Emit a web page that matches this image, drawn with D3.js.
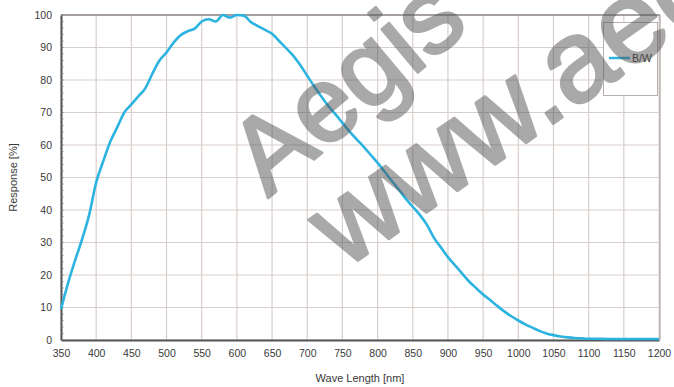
<!DOCTYPE html>
<html><head><meta charset="utf-8">
<script src="https://cdn.jsdelivr.net/npm/d3@7"></script>
<style>html,body{margin:0;padding:0;background:#fff;}svg{display:block;}</style>
</head><body><div id="chart"></div>
<script>
const wavelengths = [350,360,370,380,390,400,410,420,430,440,450,460,470,480,490,500,510,520,530,540,550,560,570,580,590,600,610,620,630,640,650,660,670,680,690,700,710,720,730,740,750,760,770,780,790,800,810,820,830,840,850,860,870,880,890,900,910,920,930,940,950,960,970,980,990,1000,1010,1020,1030,1040,1050,1060,1070,1080,1090,1100,1120,1140,1160,1180,1200];
const responseBW = [9.5,17.5,24.5,31,38.5,48.5,55,61,65.5,70,72.5,75,77.5,82,86,88.5,91.5,93.8,95,95.8,98,98.7,98,100,99.2,100,99.8,97.8,96.6,95.4,94.2,92,89.8,87.5,84.6,81.3,78,74.9,72,69.5,66.8,64.2,61.8,59.5,57,54.5,51.8,49,46.3,43.5,41,38.5,35.5,31.5,28.5,25.5,23,20.5,18,16,14,12.3,10.5,8.8,7.3,6,4.8,3.8,2.8,2,1.5,1.1,0.8,0.6,0.5,0.4,0.35,0.3,0.3,0.3,0.3];
const xTicks = [350,400,450,500,550,600,650,700,750,800,850,900,950,1000,1050,1100,1150,1200];
const yTicks = [0,10,20,30,40,50,60,70,80,90,100];
const seriesName = "B/W";
const xTitle = "Wave Length [nm]";
const yTitle = "Response [%]";
const watermark1 = "Aegis";
const watermark2 = "www.aegis-elec.com";

const W = 674, H = 387;
const m = {left:61, right:15, top:15, bottom:47};
const svg = d3.select("#chart").append("svg").attr("width", W).attr("height", H);
const x = d3.scaleLinear().domain([350,1200]).range([m.left, W - m.right]);
const y = d3.scaleLinear().domain([0,100]).range([H - m.bottom, m.top]);
const font = "'Liberation Sans', Arial, sans-serif";

// grid
const grid = svg.append("g");
grid.selectAll(".vg").data(xTicks).join("line")
  .attr("x1", d => x(d)).attr("x2", d => x(d)).attr("y1", y(0)).attr("y2", y(100))
  .attr("stroke", "#d9cfcc").attr("stroke-width", 1.2);
grid.selectAll(".hg").data(yTicks).join("line")
  .attr("x1", x(350)).attr("x2", x(1200)).attr("y1", d => y(d)).attr("y2", d => y(d))
  .attr("stroke", "#d9cfcc").attr("stroke-width", 1.2);

// frame top/right
svg.append("line").attr("x1", x(350)).attr("x2", x(1200)+1).attr("y1", y(100)).attr("y2", y(100)).attr("stroke", "#8f8a88").attr("stroke-width", 1.5);
svg.append("line").attr("x1", x(1200)+1).attr("x2", x(1200)+1).attr("y1", y(100)).attr("y2", y(0)).attr("stroke", "#a8a2a0").attr("stroke-width", 1.2);

// axes
const xAxis = svg.append("g").attr("transform", `translate(0,${y(0)})`)
  .call(d3.axisBottom(x).tickValues(xTicks).tickSize(0).tickPadding(10).tickFormat(d3.format("d")));
const yAxis = svg.append("g").attr("transform", `translate(${x(350)},0)`)
  .call(d3.axisLeft(y).tickValues(yTicks).tickSize(0).tickPadding(9).tickFormat(d3.format("d")));
[xAxis, yAxis].forEach(a => {
  a.select(".domain").attr("stroke", "#555").attr("stroke-width", 2);
  a.selectAll("text").attr("font-family", font).attr("font-size", 10.5).attr("fill", "#3a3a3a");
});
// minor ticks on y axis
svg.append("g").selectAll("line").data(d3.range(0, 101, 2)).join("line")
  .attr("x1", x(350)).attr("x2", x(350)+2.5).attr("y1", d => y(d)).attr("y2", d => y(d))
  .attr("stroke", "#777").attr("stroke-width", 0.8);

// curve
const line = d3.line().x((d,i) => x(wavelengths[i])).y(d => y(d)).curve(d3.curveMonotoneX);
svg.append("path").datum(responseBW).attr("d", line)
  .attr("fill", "none").attr("stroke", "#2cb3e0").attr("stroke-width", 2.6).attr("stroke-linejoin", "round");

// legend
const lg = svg.append("g");
lg.append("rect").attr("x", 603.5).attr("y", 22.5).attr("width", 54).attr("height", 73)
  .attr("fill", "#fff").attr("stroke", "#b8aeab").attr("stroke-width", 1);
lg.append("line").attr("x1", 609).attr("x2", 630).attr("y1", 58).attr("y2", 58)
  .attr("stroke", "#2cb3e0").attr("stroke-width", 2.5);
lg.append("text").attr("x", 632).attr("y", 58).attr("dy", "0.35em")
  .attr("font-family", font).attr("font-size", 10.5).attr("fill", "#333").text(seriesName);

// titles
svg.append("text").attr("x", (x(350)+x(1200))/2).attr("y", 378).attr("dy", "0.35em")
  .attr("text-anchor", "middle").attr("font-family", font).attr("font-size", 11).attr("fill", "#3a3a3a").text(xTitle);
svg.append("text").attr("transform", `translate(13,${(y(0)+y(100))/2}) rotate(-90)`).attr("dy", "0.35em")
  .attr("text-anchor", "middle").attr("font-family", font).attr("font-size", 11).attr("fill", "#3a3a3a").text(yTitle);

// watermark
const wm = svg.append("g").attr("opacity", 0.5).attr("fill", "#555").attr("stroke", "#555")
  .attr("stroke-width", 3).attr("stroke-linejoin", "round").attr("font-family", font);
wm.append("text").attr("transform", "translate(268,198) rotate(-40)").attr("font-size", 106).text(watermark1);
wm.append("text").attr("transform", "translate(344,270) rotate(-35)").attr("font-size", 116).text(watermark2);
</script></body></html>
